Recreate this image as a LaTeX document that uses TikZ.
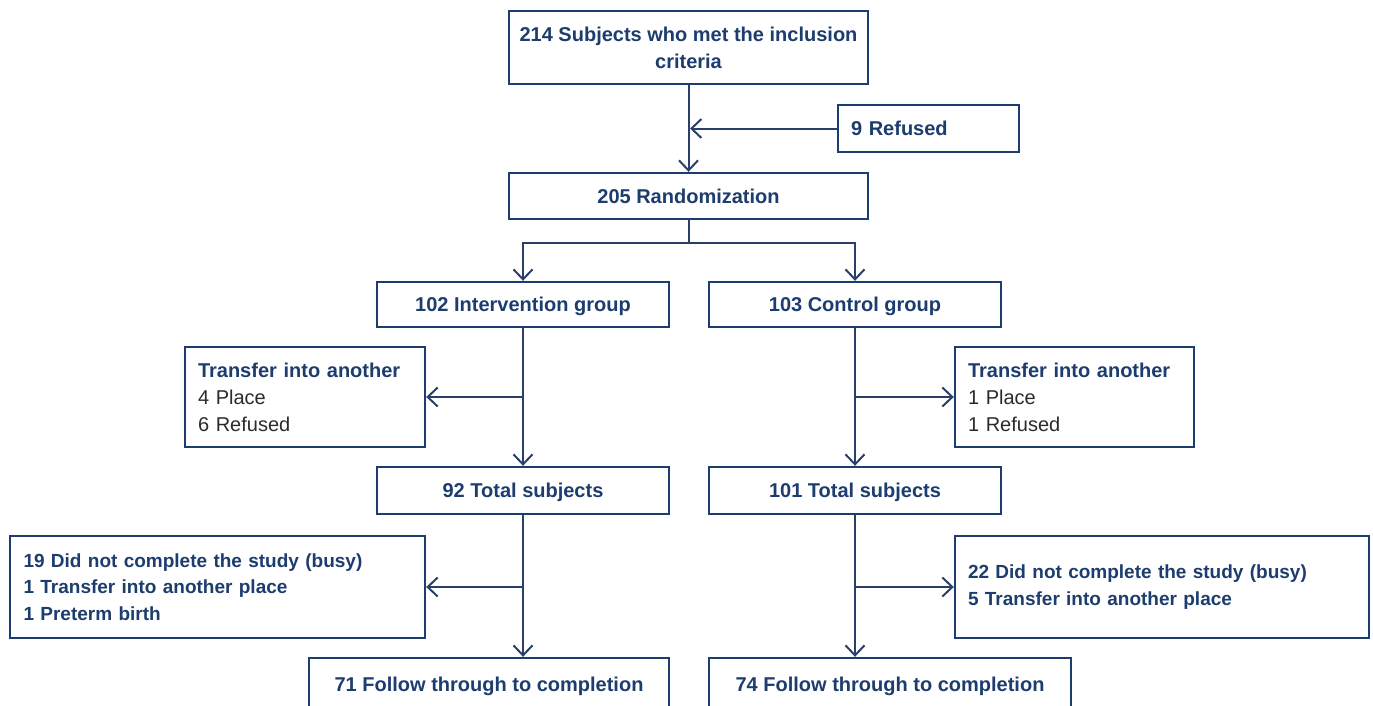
\documentclass[tikz,border=0pt]{standalone}
\usepackage{fontspec}
\setmainfont{Liberation Sans}
\usetikzlibrary{arrows.meta,calc}
\definecolor{navy}{HTML}{1C3D6E}
\definecolor{arrcol}{HTML}{2A3F6A}
\definecolor{txtgray}{HTML}{2B2B2B}
\begin{document}
\begin{tikzpicture}[x=1pt,y=-1pt,
  box/.style={draw=navy,line width=2.4pt,inner sep=0pt,font=\fontsize{20}{27}\selectfont\bfseries,text=navy},
  cbox/.style={box,align=center},
  sbox/.style={box,align=center,text depth=0pt},
  lbox/.style={box,align=left},
  arr/.style={draw=arrcol,line width=2pt,-{Straight Barb[length=10pt,width=19pt,line width=2pt]}},
  ln/.style={draw=arrcol,line width=2pt}]
\path[use as bounding box,clip] (0,0) rectangle (1373,705);
\fill[white] (0,0) rectangle (1373,705);
\node[cbox,minimum width=359,minimum height=73] (top) at (688.5,47.5) {214 Subjects who met the inclusion\\criteria};
\node[lbox,minimum width=181,minimum height=47,text width=155,text depth=0pt] (ref) at (928.5,128.5) {9 Refused};
\node[sbox,minimum width=359,minimum height=46] (rand) at (688.5,196) {205 Randomization};
\node[sbox,minimum width=292,minimum height=45] (int) at (523,304.5) {102 Intervention group};
\node[sbox,minimum width=292,minimum height=45] (ctl) at (855,304.5) {103 Control group};
\node[lbox,minimum width=240,minimum height=100,text width=214] (tl) at (305,397) {Transfer into another\\{\mdseries\color{txtgray}4 Place}\\{\mdseries\color{txtgray}6 Refused}};
\node[lbox,minimum width=239,minimum height=100,text width=213] (tr) at (1074.5,397) {Transfer into another\\{\mdseries\color{txtgray}1 Place}\\{\mdseries\color{txtgray}1 Refused}};
\node[sbox,minimum width=292,minimum height=47] (t1) at (523,490.5) {92 Total subjects};
\node[sbox,minimum width=292,minimum height=47] (t2) at (855,490.5) {101 Total subjects};
\node[lbox,minimum width=415,minimum height=102,text width=388,font=\fontsize{19}{26.5}\selectfont\bfseries] (dl) at (217.5,587) {19 Did not complete the study (busy)\\1 Transfer into another place\\1 Preterm birth};
\node[lbox,minimum width=414,minimum height=102,text width=388,font=\fontsize{19}{26.5}\selectfont\bfseries] (dr) at (1162,587) {22 Did not complete the study (busy)\\5 Transfer into another place};
\node[sbox,minimum width=360,minimum height=52] (f1) at (489,684) {71 Follow through to completion};
\node[sbox,minimum width=362,minimum height=52] (f2) at (890,684) {74 Follow through to completion};
% connectors
\draw[arr] (top.south) -- (rand.north);
\draw[arr] (ref.west) -- ($(ref.west -| top.south)+(1.5,0)$);
\coordinate (split) at ($(rand.south)+(0,23)$);
\draw[ln] (rand.south) -- (split);
\draw[arr] (split) -| (int.north);
\draw[arr] (split) -| (ctl.north);
\draw[arr] (int.south) -- (t1.north);
\draw[arr] (int.south |- tl.east) -- (tl.east);
\draw[arr] (ctl.south) -- (t2.north);
\draw[arr] (ctl.south |- tr.west) -- (tr.west);
\draw[arr] (t1.south) -- (t1.south |- f1.north);
\draw[arr] (t1.south |- dl.east) -- (dl.east);
\draw[arr] (t2.south) -- (t2.south |- f2.north);
\draw[arr] (t2.south |- dr.west) -- (dr.west);
\end{tikzpicture}
\end{document}
